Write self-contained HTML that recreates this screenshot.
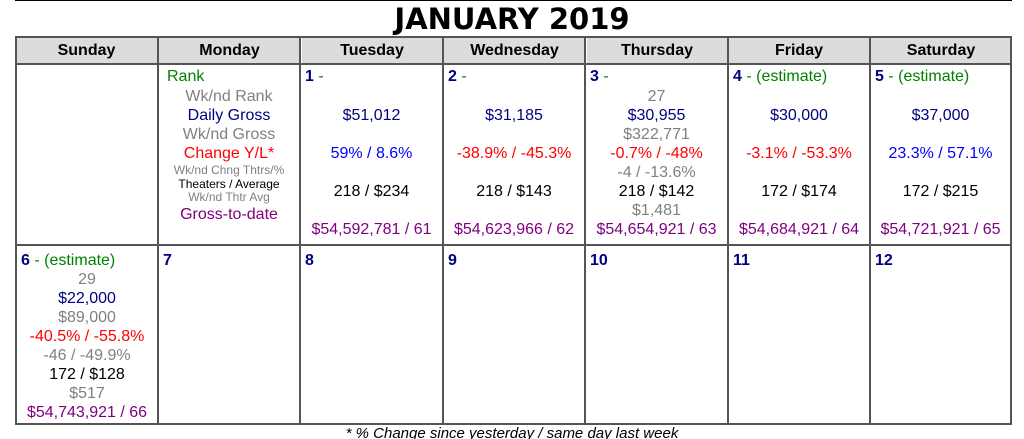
<!DOCTYPE html>
<html><head><meta charset="utf-8"><style>
html,body{margin:0;width:1024px;height:439px;overflow:hidden;}
body{background:#fff;position:relative;font-family:"Liberation Sans",sans-serif;}
.a{position:absolute}
.t{position:absolute;left:0;right:0;text-align:center;font-size:16px;line-height:19px;white-space:nowrap}
.s{font-size:12px;line-height:13px}
.n{position:absolute;left:4px;font-size:16px;line-height:19px;white-space:nowrap}
.n b{color:#000080}
.g{color:#008000}.gr{color:#808080}.db{color:#000080}.r{color:#ff0000}.bl{color:#0000ff}.p{color:#800080}.k{color:#000}
.h{position:absolute;top:37px;height:26px;line-height:27px;text-align:center;font-weight:bold;font-size:16px;background:#dcdcdc}
.vl{position:absolute;width:2px;background:#555;top:36px;height:389px}
.hl{position:absolute;left:15px;width:997px;height:2px;background:#555}
.w{position:absolute;top:1px;height:425px}
</style></head><body>
<div class="a" style="left:15px;top:0;width:997px;height:1px;background:#000"></div>
<div class="a" style="left:0;width:1024px;top:2px;text-align:center;font-family:'DejaVu Sans',sans-serif;font-weight:bold;font-size:29px;line-height:34px">JANUARY 2019</div>

<div class="h" style="left:16px;width:141px">Sunday</div>
<div class="h" style="left:159px;width:141px">Monday</div>
<div class="h" style="left:302px;width:140px">Tuesday</div>
<div class="h" style="left:444px;width:141px">Wednesday</div>
<div class="h" style="left:587px;width:140px">Thursday</div>
<div class="h" style="left:729px;width:140px">Friday</div>
<div class="h" style="left:871px;width:140px">Saturday</div>

<div class="hl" style="top:36px"></div>
<div class="hl" style="top:63px"></div>
<div class="hl" style="top:244px"></div>
<div class="hl" style="top:423px"></div>
<div class="vl" style="left:15px"></div>
<div class="vl" style="left:157px"></div>
<div class="vl" style="left:299px"></div>
<div class="vl" style="left:442px"></div>
<div class="vl" style="left:584px"></div>
<div class="vl" style="left:727px"></div>
<div class="vl" style="left:869px"></div>
<div class="vl" style="left:1010px"></div>

<div class="w" style="left:159px;width:140px">
<div class="n g" style="left:8px;top:66px">Rank</div>
<div class="t gr" style="top:86px">Wk/nd Rank</div>
<div class="t db" style="top:105px">Daily Gross</div>
<div class="t gr" style="top:124px">Wk/nd Gross</div>
<div class="t r" style="top:143px">Change Y/L*</div>
<div class="t gr s" style="top:163px">Wk/nd Chng Thtrs/%</div>
<div class="t k s" style="top:177px">Theaters / Average</div>
<div class="t gr s" style="top:190px">Wk/nd Thtr Avg</div>
<div class="t p" style="top:204px">Gross-to-date</div>
</div>

<div class="w" style="left:301px;width:141px">
<div class="n" style="top:66px"><b>1</b> <span class="g">-</span></div>
<div class="t db" style="top:105px">$51,012</div>
<div class="t bl" style="top:143px">59% / 8.6%</div>
<div class="t k" style="top:181px">218 / $234</div>
<div class="t p" style="top:219px">$54,592,781 / 61</div>
</div>
<div class="w" style="left:444px;width:140px">
<div class="n" style="top:66px"><b>2</b> <span class="g">-</span></div>
<div class="t db" style="top:105px">$31,185</div>
<div class="t r" style="top:143px">-38.9% / -45.3%</div>
<div class="t k" style="top:181px">218 / $143</div>
<div class="t p" style="top:219px">$54,623,966 / 62</div>
</div>
<div class="w" style="left:586px;width:141px">
<div class="n" style="top:66px"><b>3</b> <span class="g">-</span></div>
<div class="t gr" style="top:86px">27</div>
<div class="t db" style="top:105px">$30,955</div>
<div class="t gr" style="top:124px">$322,771</div>
<div class="t r" style="top:143px">-0.7% / -48%</div>
<div class="t gr" style="top:162px">-4 / -13.6%</div>
<div class="t k" style="top:181px">218 / $142</div>
<div class="t gr" style="top:200px">$1,481</div>
<div class="t p" style="top:219px">$54,654,921 / 63</div>
</div>
<div class="w" style="left:729px;width:140px">
<div class="n" style="top:66px"><b>4</b> <span class="g">- (estimate)</span></div>
<div class="t db" style="top:105px">$30,000</div>
<div class="t r" style="top:143px">-3.1% / -53.3%</div>
<div class="t k" style="top:181px">172 / $174</div>
<div class="t p" style="top:219px">$54,684,921 / 64</div>
</div>
<div class="w" style="left:871px;width:139px">
<div class="n" style="top:66px"><b>5</b> <span class="g">- (estimate)</span></div>
<div class="t db" style="top:105px">$37,000</div>
<div class="t bl" style="top:143px">23.3% / 57.1%</div>
<div class="t k" style="top:181px">172 / $215</div>
<div class="t p" style="top:219px">$54,721,921 / 65</div>
</div>

<div class="w" style="left:17px;width:140px">
<div class="n" style="top:250px"><b>6</b> <span class="g">- (estimate)</span></div>
<div class="t gr" style="top:269px">29</div>
<div class="t db" style="top:288px">$22,000</div>
<div class="t gr" style="top:307px">$89,000</div>
<div class="t r" style="top:326px">-40.5% / -55.8%</div>
<div class="t gr" style="top:345px">-46 / -49.9%</div>
<div class="t k" style="top:364px">172 / $128</div>
<div class="t gr" style="top:383px">$517</div>
<div class="t p" style="top:402px">$54,743,921 / 66</div>
</div>
<div class="n" style="left:163px;top:251px"><b>7</b></div>
<div class="n" style="left:305px;top:251px"><b>8</b></div>
<div class="n" style="left:448px;top:251px"><b>9</b></div>
<div class="n" style="left:590px;top:251px"><b>10</b></div>
<div class="n" style="left:733px;top:251px"><b>11</b></div>
<div class="n" style="left:875px;top:251px"><b>12</b></div>

<div class="a" style="left:0;width:1024px;top:425px;height:14px;overflow:hidden;text-align:center;font-style:italic;font-size:15px;line-height:18px">* % Change since yesterday / same day last week</div>
</body></html>
